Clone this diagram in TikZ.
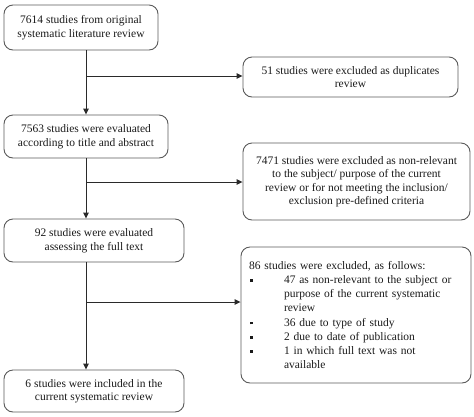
\documentclass[tikz,border=0pt]{standalone}
\usepackage{fontspec}
\setmainfont{Liberation Serif}
\usetikzlibrary{arrows.meta}
\definecolor{linec}{HTML}{2A2A2A}
\definecolor{boxc}{HTML}{5A5A5A}
\definecolor{txtc}{HTML}{1A1A1A}
\newcommand{\bsq}{\raisebox{1.7pt}{\rule{2.7pt}{2.7pt}}}
\begin{document}
\begin{tikzpicture}[x=1pt,y=-1pt,
  box/.style={draw=boxc,line width=0.9pt,rounded corners=9pt,align=center,
    font=\fontsize{11.5}{13.5}\selectfont,text=txtc,inner sep=0pt},
  arr/.style={draw=linec,line width=0.9pt,-{Triangle[length=6pt,width=5.5pt]}}]
\useasboundingbox (0,0) rectangle (474,416);
\node[box,minimum width=154pt,minimum height=45pt] (b1) at (81,27.5)
  {7614 studies from original\\systematic literature review};
\node[box,minimum width=215pt,minimum height=40pt] (b2) at (350.5,77)
  {51 studies were excluded as duplicates\\review};
\node[box,minimum width=164pt,minimum height=43pt] (b3) at (86,136.5)
  {7563 studies were evaluated\\according to title and abstract};
\node[box,minimum width=227pt,minimum height=77pt] (b4) at (356.5,181.5)
  {7471 studies were excluded as non-relevant\\to the subject/ purpose of the current\\review or for not meeting the inclusion/\\exclusion pre-defined criteria};
\node[box,minimum width=230pt,minimum height=136pt,align=left,text width=214pt,
  font=\fontsize{11.5}{14.2}\selectfont] (b6) at (356,315)
  {86 studies were excluded, as follows:\\
   \hspace*{1pt}\makebox[34pt][l]{\bsq}47 as non-relevant to the subject or\\
   \hspace*{35pt}purpose of the current systematic\\
   \hspace*{35pt}review\\
   \hspace*{1pt}\makebox[34pt][l]{\bsq}36 due to type of study\\
   \hspace*{1pt}\makebox[34pt][l]{\bsq}2 due to date of publication\\
   \hspace*{1pt}\makebox[34pt][l]{\bsq}1 in which full text was not\\
   \hspace*{35pt}available};
\node[box,minimum width=180pt,minimum height=43pt] (b5) at (94,240.5)
  {92 studies were evaluated\\assessing the full text};
\node[box,minimum width=180pt,minimum height=42pt] (b7) at (94,391)
  {6 studies were included in the\\current systematic review};
\coordinate (t) at (86,0);
\coordinate (j1) at (86,76);
\coordinate (j2) at (86,182);
\coordinate (j3) at (86,302);
\draw[arr] (b1.south -| t) -- (b3.north -| t);
\draw[arr] (b3.south -| t) -- (b5.north -| t);
\draw[arr] (b5.south -| t) -- (b7.north -| t);
\draw[arr] (j1) -- (b2.west |- j1);
\draw[arr] (j2) -- (b4.west |- j2);
\draw[arr] (j3) -- (b6.west |- j3);
\end{tikzpicture}
\end{document}
